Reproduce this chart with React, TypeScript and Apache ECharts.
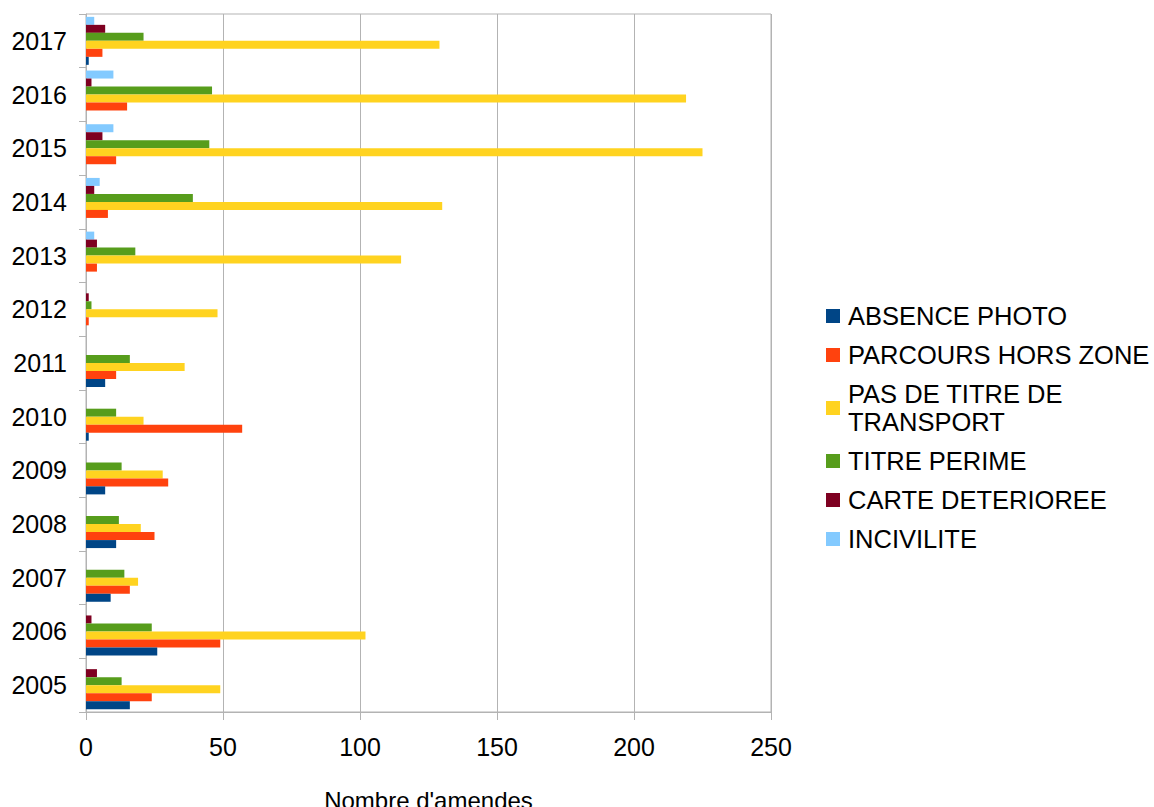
import React, { useEffect, useRef } from "react";
import * as echarts from "echarts";

const years = ["2005", "2006", "2007", "2008", "2009", "2010", "2011", "2012", "2013", "2014", "2015", "2016", "2017"];
const seriesNames = ["ABSENCE PHOTO", "PARCOURS HORS ZONE", "PAS DE TITRE DE TRANSPORT", "TITRE PERIME", "CARTE DETERIOREE", "INCIVILITE"];
const colors = ["#004586", "#ff420e", "#ffd320", "#579d1c", "#7e0021", "#83caff"];
const absencePhoto = [16, 26, 9, 11, 7, 1, 7, 0, 0, 0, 0, 0, 1];
const parcoursHorsZone = [24, 49, 16, 25, 30, 57, 11, 1, 4, 8, 11, 15, 6];
const pasDeTitre = [49, 102, 19, 20, 28, 21, 36, 48, 115, 130, 225, 219, 129];
const titrePerime = [13, 24, 14, 12, 13, 11, 16, 2, 18, 39, 45, 46, 21];
const carteDeterioree = [4, 2, 0, 0, 0, 0, 0, 1, 4, 3, 6, 2, 7];
const incivilite = [0, 0, 0, 0, 0, 0, 0, 0, 3, 5, 10, 10, 3];
const xTicks = { min: 0, max: 250, interval: 50 };

const allData = [absencePhoto, parcoursHorsZone, pasDeTitre, titrePerime, carteDeterioree, incivilite];

export default function App() {
  const ref = useRef<HTMLDivElement>(null);
  useEffect(() => {
    if (!ref.current) return;
    document.body.style.margin = "0";
    document.body.style.overflow = "hidden";
    const chart = echarts.init(ref.current, null, { renderer: "svg", width: 1154, height: 807 });
    const font = "Liberation Sans";
    // ECharts stacks bars within a band from the top for horizontal bars,
    // so feed series in reverse order; the legend keeps the original order.
    const order = [5, 4, 3, 2, 1, 0];
    chart.setOption({
      animation: false,
      textStyle: { fontFamily: font },
      grid: {
        left: 86,
        right: 383,
        top: 14,
        bottom: 95,
        show: true,
        borderColor: "#b3b3b3",
        borderWidth: 1,
        containLabel: false,
        outerBoundsMode: "none",
      },
      legend: {
        orient: "vertical",
        left: 821,
        top: 297,
        itemWidth: 14,
        itemHeight: 14,
        itemGap: 11,
        icon: "rect",
        data: seriesNames,
        formatter: (name: string) => (name === "PAS DE TITRE DE TRANSPORT" ? "PAS DE TITRE DE\nTRANSPORT" : name),
        textStyle: { fontSize: 25.5, lineHeight: 28, color: "#000", fontFamily: font, padding: [0, 0, 0, 3] },
      },
      xAxis: {
        type: "value",
        min: xTicks.min,
        max: xTicks.max,
        interval: xTicks.interval,
        name: "Nombre d'amendes",
        nameLocation: "middle",
        nameGap: 76,
        nameTextStyle: { fontSize: 24, color: "#000", fontFamily: font },
        axisLine: { show: true, lineStyle: { color: "#b3b3b3", width: 1 } },
        axisTick: { show: true, length: 8, lineStyle: { color: "#b3b3b3" } },
        axisLabel: { fontSize: 25, color: "#000", margin: 22, fontFamily: font },
        splitLine: { show: true, lineStyle: { color: "#b3b3b3", width: 1 } },
      },
      yAxis: {
        type: "category",
        data: years,
        axisLine: { show: true, lineStyle: { color: "#b3b3b3", width: 1 } },
        axisTick: { show: true, length: 7, lineStyle: { color: "#b3b3b3" } },
        axisLabel: { fontSize: 25, color: "#000", margin: 19, fontFamily: font },
        splitLine: { show: false },
      },
      series: order.map((i) => ({
        name: seriesNames[i],
        type: "bar",
        data: allData[i],
        barGap: "0%",
        barCategoryGap: "10.6%",
        itemStyle: { color: colors[i] },
      })),
    });
    return () => chart.dispose();
  }, []);
  return <div ref={ref} style={{ width: 1154, height: 807, position: "absolute", left: 0, top: 0 }} />;
}
